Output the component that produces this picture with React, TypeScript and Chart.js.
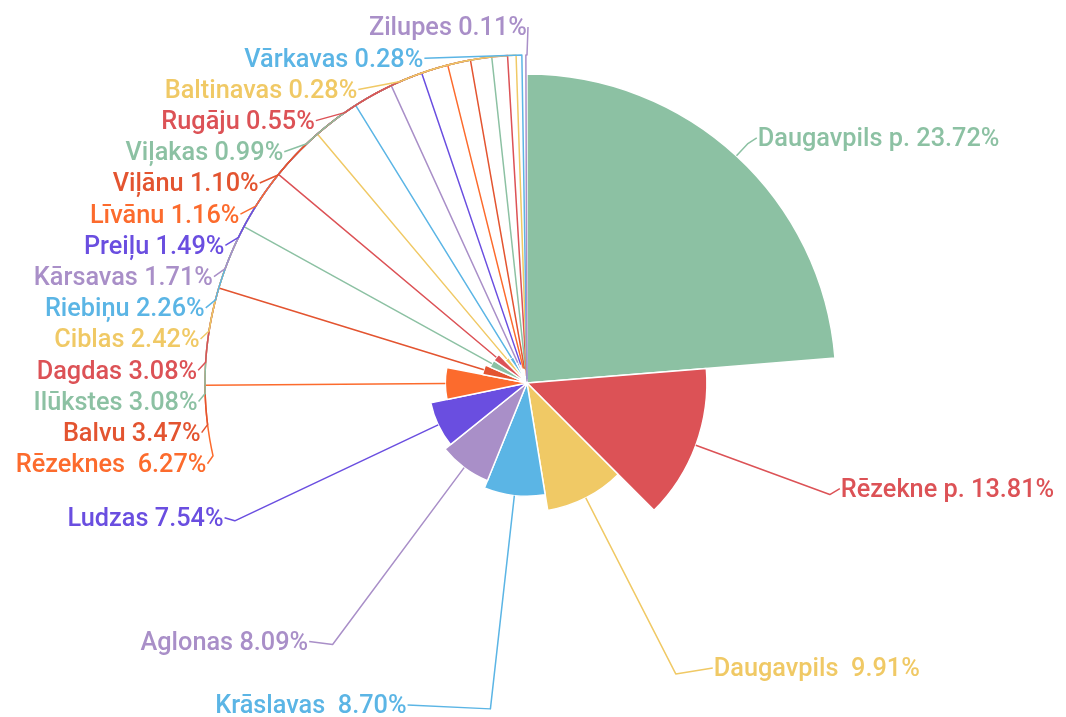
import { useEffect, useRef } from "react";
import { Chart, registerables } from "chart.js";

Chart.register(...registerables);

const names = [
  "Daugavpils p.", "Rēzekne p.", "Daugavpils ", "Krāslavas ", "Aglonas", "Ludzas",
  "Rēzeknes ", "Balvu", "Ilūkstes", "Dagdas", "Ciblas", "Riebiņu", "Kārsavas",
  "Preiļu", "Līvānu", "Viļānu", "Viļakas", "Rugāju", "Baltinavas", "Vārkavas", "Zilupes",
];
const shares = [
  23.72, 13.81, 9.91, 8.70, 8.09, 7.54, 6.27, 3.47, 3.08, 3.08, 2.42, 2.26, 1.71,
  1.49, 1.16, 1.10, 0.99, 0.55, 0.28, 0.28, 0.11,
];
const palette = ["#8cc1a3", "#dc5256", "#f0c965", "#5bb5e5", "#a98fc8", "#6a4ee0", "#fc6b2d", "#e35430"];

const colors = shares.map((_, i) => palette[i % palette.length]);
const total = shares.reduce((a, b) => a + b, 0);

type Item = { i: number; dir: number; mid: number; ex: number; ey: number; by0: number; y: number };

function spread(list: Item[], gap: number, top: number, bottom: number) {
  list.sort((a, b) => a.y - b.y);
  const n = list.length;
  const blocks: { sum: number; cnt: number }[] = [];
  list.forEach((it, k) => {
    let b = { sum: it.y - k * gap, cnt: 1 };
    while (blocks.length && blocks[blocks.length - 1].sum / blocks[blocks.length - 1].cnt > b.sum / b.cnt) {
      const p = blocks.pop()!;
      b = { sum: p.sum + b.sum, cnt: p.cnt + b.cnt };
    }
    blocks.push(b);
  });
  const zmax = bottom - (n - 1) * gap;
  let k = 0;
  blocks.forEach((b) => {
    let z = b.sum / b.cnt;
    z = Math.min(zmax, z);
    z = Math.max(top, z);
    for (let j = 0; j < b.cnt; j++, k++) list[k].y = z + k * gap;
  });
}

const TWO_PI = Math.PI * 2;
const norm = (a: number) => ((a % TWO_PI) + TWO_PI) % TWO_PI;

const leaderPlugin = {
  id: "leaders",
  afterDatasetsDraw(chart: any) {
    const meta = chart.getDatasetMeta(0);
    const ctx = chart.ctx as CanvasRenderingContext2D;
    const arcs = meta.data as any[];
    let maxR = 0, cx = 0, cy = 0;
    arcs.forEach((a) => {
      const p = a.getProps(["x", "y", "outerRadius"], true);
      maxR = Math.max(maxR, p.outerRadius);
      cx = p.x;
      cy = p.y;
    });
    // guide ellipse (elbows) and label ellipse
    const ax = maxR + 13, by = maxR + 19;
    const ta = maxR + 21;
    const tbUp = maxR + 31, tbDown = maxR + 39;
    const ell = (th: number) => {
      const c = Math.cos(th), s = Math.sin(th);
      const t = 1 / Math.sqrt((c * c) / (ax * ax) + (s * s) / (by * by));
      return [cx + c * t, cy + s * t];
    };
    const items: Item[] = arcs.map((a, i) => {
      const p = a.getProps(["startAngle", "endAngle", "outerRadius"], true);
      const midRaw = (p.startAngle + p.endAngle) / 2;
      const c = Math.cos(midRaw), s = Math.sin(midRaw);
      const dir = c >= 0 ? 1 : -1;
      const mid = dir < 0 ? norm(midRaw) : Math.atan2(s, c);
      const e = ell(mid);
      return {
        i,
        dir,
        mid,
        ex: cx + c * p.outerRadius,
        ey: cy + s * p.outerRadius,
        by0: e[1],
        y: e[1] - (dir > 0 ? 4 : 1),
      };
    });
    const gap = 31.2;
    const top = 21;
    const bottom = chart.height - 10;
    spread(items.filter((d) => d.dir < 0), gap, top, bottom);
    spread(items.filter((d) => d.dir > 0), gap, top, bottom);

    ctx.save();
    ctx.font = "500 25.3px Roboto";
    ctx.textBaseline = "middle";
    ctx.lineWidth = 1.5;
    ctx.lineJoin = "round";
    items.forEach((it) => {
      const dy = it.y - cy;
      const tb = dy > 0 ? tbDown : tbUp;
      const d = ta * Math.sqrt(Math.max(0, 1 - (dy * dy) / (tb * tb)));
      const xt = cx + it.dir * d;
      const col = colors[it.i];
      ctx.strokeStyle = col;
      ctx.beginPath();
      ctx.moveTo(it.ex, it.ey);
      const e = ell(it.mid);
      ctx.lineTo(e[0], e[1]);
      if (Math.abs(it.y - it.by0) > 8) {
        let dyP = it.y - 10 - cy;
        dyP = Math.max(-by, Math.min(by, dyP));
        const xP = it.dir * ax * Math.sqrt(Math.max(0, 1 - (dyP * dyP) / (by * by)));
        let thP = Math.atan2(dyP, xP);
        if (it.dir < 0) {
          thP = xP === 0 ? (dyP < 0 ? 1.5 * Math.PI : 0.5 * Math.PI) : norm(thP);
        }
        const steps = 48;
        for (let k = 1; k <= steps; k++) {
          const th = it.mid + ((thP - it.mid) * k) / steps;
          const q = ell(th);
          ctx.lineTo(q[0], q[1]);
        }
      }
      ctx.lineTo(xt - it.dir * 1, it.y - 2);
      ctx.stroke();
      ctx.fillStyle = col;
      ctx.textAlign = it.dir > 0 ? "left" : "right";
      ctx.fillText(`${names[it.i]} ${shares[it.i].toFixed(2)}%`, xt, it.y);
    });
    ctx.restore();
  },
};

export default function App() {
  const ref = useRef<HTMLCanvasElement>(null);
  useEffect(() => {
    if (!ref.current) return;
    const chart = new Chart(ref.current, {
      type: "polarArea",
      data: {
        labels: names,
        datasets: [
          {
            data: shares,
            backgroundColor: colors,
            borderColor: "#ffffff",
            borderWidth: 1.5,
            angle: (c: any) => (shares[c.dataIndex] / total) * 360,
          } as any,
        ],
      },
      options: {
        animation: false,
        responsive: true,
        maintainAspectRatio: false,
        layout: { padding: { left: 210, right: 222, top: 66, bottom: 25 } },
        plugins: { legend: { display: false }, tooltip: { enabled: false } },
        scales: {
          r: { display: false, min: 0, max: Math.max(...shares) },
        },
      } as any,
      plugins: [leaderPlugin],
    });
    return () => chart.destroy();
  }, []);
  return (
    <div style={{ width: 1050, height: 709, position: "relative" }}>
      <canvas ref={ref} />
    </div>
  );
}
